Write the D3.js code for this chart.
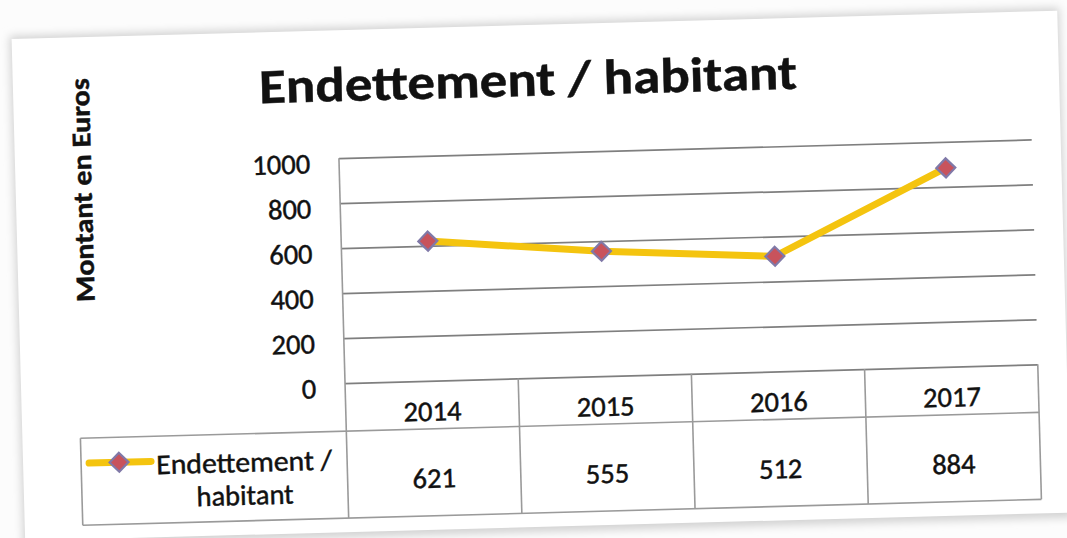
<!DOCTYPE html>
<html>
<head>
<meta charset="utf-8">
<script src="https://cdn.jsdelivr.net/npm/d3@7"></script>
<style>
  html, body { margin: 0; padding: 0; background: #fbfbfb; }
  svg { display: block; }
  text { font-family: Carlito, Calibri, Lato, "Open Sans", sans-serif; fill: #111; stroke: #111; stroke-width: 0.45px; }
</style>
</head>
<body>
<svg id="chart" width="1067" height="538"></svg>
<script>
// ---- data ----
const categories = ["2014", "2015", "2016", "2017"];
const values = [621, 555, 512, 884];
const yTicks = [0, 200, 400, 600, 800, 1000];
const seriesName = ["Endettement /", "habitant"];
const chartTitle = "Endettement / habitant";
const yAxisTitle = "Montant en Euros";

// ---- layout (unrotated frame) ----
const W = 1067, H = 538;
const plot = { left: 342, right: 1035, top: 153, bottom: 378 };
const table = { legendLeft: 76, row1: 426, bottom: 513 };

const svg = d3.select("#chart");

const defs = svg.append("defs");
const blur = defs.append("filter").attr("id", "sh").attr("x", "-5%").attr("y", "-5%").attr("width", "110%").attr("height", "110%");
blur.append("feGaussianBlur").attr("stdDeviation", 4);

svg.append("rect").attr("width", W).attr("height", H).attr("fill", "#fcfcfc");

const g = svg.append("g").attr("transform", "rotate(-1.55 533 269)");

// paper with soft shadow edges
g.append("rect").attr("x", 16).attr("y", 22).attr("width", 1050).attr("height", 510)
  .attr("fill", "#d2d2d2").attr("filter", "url(#sh)");
g.append("rect").attr("x", 18).attr("y", 25).attr("width", 1046).attr("height", 502)
  .attr("fill", "#ffffff");

// scales
const x = d3.scaleBand().domain(categories).range([plot.left, plot.right]).padding(0);
const y = d3.scaleLinear().domain([0, 1000]).range([plot.bottom, plot.top]);

// gridlines
const grid = g.append("g").attr("transform", `translate(${plot.left},0)`)
  .call(d3.axisLeft(y).tickValues(yTicks).tickSize(-(plot.right - plot.left)).tickFormat(""));
grid.select(".domain").remove();
grid.selectAll(".tick line").attr("stroke", "#7f7f7f").attr("stroke-width", 1.7);

// y tick labels
const yAxis = g.append("g").attr("transform", `translate(${plot.left - 29},0)`)
  .call(d3.axisLeft(y).tickValues(yTicks).tickSize(0).tickPadding(0).tickFormat(d3.format("d")));
yAxis.select(".domain").remove();
yAxis.selectAll(".tick text")
  .attr("font-size", 28.5).attr("dy", "0.7em").attr("y", -6)
  .style("font-family", "Carlito, Calibri, Lato, sans-serif").attr("fill", "#111");

// table lines
const lineColor = "#9a9a9a";
const tl = g.append("g").attr("stroke", lineColor).attr("stroke-width", 1.6);
tl.append("line").attr("x1", plot.left).attr("x2", plot.left).attr("y1", plot.top).attr("y2", table.bottom);
const bounds = categories.map(c => x(c) + x.bandwidth());
tl.selectAll("line.col").data(bounds).enter().append("line").attr("class", "col")
  .attr("x1", d => d).attr("x2", d => d).attr("y1", plot.bottom).attr("y2", table.bottom);
tl.append("line").attr("x1", table.legendLeft).attr("x2", plot.right).attr("y1", table.row1).attr("y2", table.row1);
tl.append("line").attr("x1", table.legendLeft).attr("x2", plot.right).attr("y1", table.bottom).attr("y2", table.bottom);
tl.append("line").attr("x1", table.legendLeft).attr("x2", table.legendLeft).attr("y1", table.row1).attr("y2", table.bottom);

// category labels
g.append("g").selectAll("text").data(categories).enter().append("text")
  .attr("x", d => x(d) + x.bandwidth() / 2).attr("y", 418)
  .attr("text-anchor", "middle").attr("font-size", 28.5).text(d => d);

// value labels
g.append("g").selectAll("text").data(values).enter().append("text")
  .attr("x", (d, i) => x(categories[i]) + x.bandwidth() / 2).attr("y", 485)
  .attr("text-anchor", "middle").attr("font-size", 28.5).text(d => d);

// series line
const lineColorY = "#f4c40f";
const line = d3.line().x((d, i) => x(categories[i]) + x.bandwidth() / 2).y(d => y(d));
g.append("path").datum(values).attr("d", line).attr("fill", "none")
  .attr("stroke", lineColorY).attr("stroke-width", 7).attr("stroke-linejoin", "round").attr("stroke-linecap", "round");

const diamond = d3.symbol().type(d3.symbolDiamond2).size(230);
g.append("g").selectAll("path").data(values).enter().append("path")
  .attr("d", diamond)
  .attr("transform", (d, i) => `translate(${x(categories[i]) + x.bandwidth() / 2},${y(d)})`)
  .attr("fill", "#c8535c").attr("stroke", "#8079a8").attr("stroke-width", 2.2);

// legend key
const lg = g.append("g");
lg.append("line").attr("x1", 84).attr("x2", 146).attr("y1", 451).attr("y2", 451)
  .attr("stroke", lineColorY).attr("stroke-width", 7).attr("stroke-linecap", "round");
lg.append("path").attr("d", diamond).attr("transform", "translate(114,451)")
  .attr("fill", "#c8535c").attr("stroke", "#8079a8").attr("stroke-width", 2.2);
lg.append("text").attr("x", 239).attr("y", 464).attr("text-anchor", "middle")
  .attr("font-size", 28.5).attr("textLength", 176).attr("lengthAdjust", "spacingAndGlyphs").text(seriesName[0]);
lg.append("text").attr("x", 239).attr("y", 497).attr("text-anchor", "middle")
  .attr("font-size", 28.5).text(seriesName[1]);

// title
g.append("text").attr("x", 533).attr("y", 96).attr("text-anchor", "middle")
  .attr("font-size", 49).attr("font-weight", "bold")
  .attr("textLength", 538).attr("lengthAdjust", "spacingAndGlyphs").text(chartTitle);

// y-axis title
g.append("text").attr("transform", "translate(94,178) rotate(-90)").attr("text-anchor", "middle")
  .attr("font-size", 27).attr("font-weight", "bold")
  .attr("textLength", 224).attr("lengthAdjust", "spacingAndGlyphs").text(yAxisTitle);
</script>
</body>
</html>
